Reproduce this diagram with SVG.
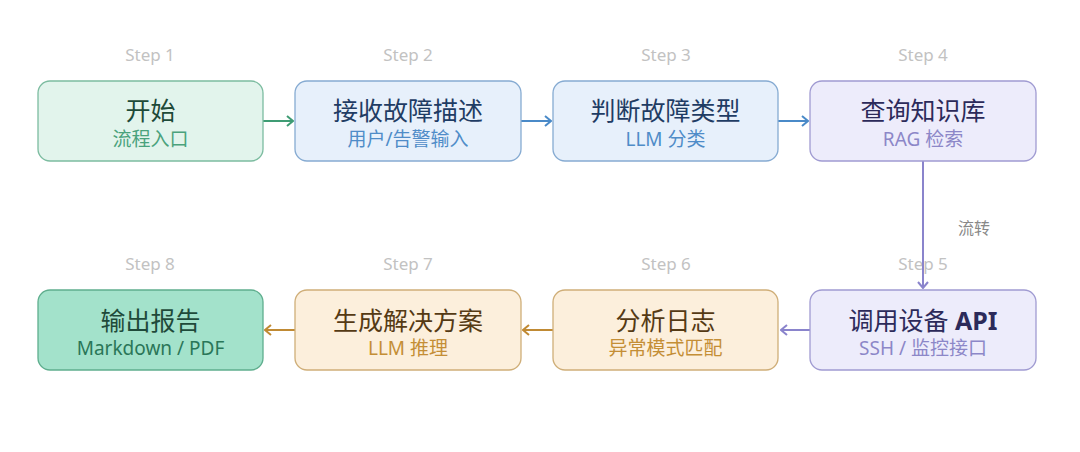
<svg xmlns="http://www.w3.org/2000/svg" width="1080" height="452" viewBox="0 0 1080 452">
<defs>
<style>
.bx{stroke-width:1.3}
.t{font-family:"Noto Sans","Noto Sans CJK SC",sans-serif;font-size:25px;text-anchor:middle}
.s{font-family:"Noto Sans","Noto Sans CJK SC",sans-serif;font-size:19px;text-anchor:middle}
.st{font-family:"Noto Sans","Noto Sans CJK SC",sans-serif;font-size:17px;text-anchor:middle;fill:#c2c2c2}
.g rect{fill:#e2f4ec;stroke:#7cbca0}
.g .t{fill:#1e4a38}.g .s{fill:#4aa27c}
.b rect{fill:#e7f0fb;stroke:#86abd2}
.b .t{fill:#1f3c64}.b .s{fill:#4f8cc8}
.p rect{fill:#edecfb;stroke:#a09bd2}
.p .t{fill:#2c2a5a}.p .s{fill:#8c87c8}
.o rect{fill:#fcefdc;stroke:#cfae78}
.o .t{fill:#553a14}.o .s{fill:#c48e36}
.d rect{fill:#a3e2cb;stroke:#5fae8e}
.d .t{fill:#1f4a3a}.d .s{fill:#2a7658}
.ln{fill:none;stroke-width:2}
</style>
<marker id="ag" viewBox="0 0 12 12" refX="11" refY="6" markerWidth="12" markerHeight="12" orient="auto" markerUnits="userSpaceOnUse"><path d="M5,1 L11,6 L5,11" fill="none" stroke="#3f9c74" stroke-width="2"/></marker>
<marker id="ab" viewBox="0 0 12 12" refX="11" refY="6" markerWidth="12" markerHeight="12" orient="auto" markerUnits="userSpaceOnUse"><path d="M5,1 L11,6 L5,11" fill="none" stroke="#4a8ac8" stroke-width="2"/></marker>
<marker id="ap" viewBox="0 0 12 12" refX="11" refY="6" markerWidth="12" markerHeight="12" orient="auto" markerUnits="userSpaceOnUse"><path d="M5,1 L11,6 L5,11" fill="none" stroke="#8a84cc" stroke-width="2"/></marker>
<marker id="ao" viewBox="0 0 12 12" refX="11" refY="6" markerWidth="12" markerHeight="12" orient="auto" markerUnits="userSpaceOnUse"><path d="M5,1 L11,6 L5,11" fill="none" stroke="#c08a34" stroke-width="2"/></marker>
</defs>
<rect width="1080" height="452" fill="#ffffff"/>
<g id="step-labels">
<text class="st" x="150" y="61">Step 1</text>
<text class="st" x="408" y="61">Step 2</text>
<text class="st" x="666" y="61">Step 3</text>
<text class="st" x="923" y="61">Step 4</text>
<text class="st" x="923" y="270">Step 5</text>
<text class="st" x="666" y="270">Step 6</text>
<text class="st" x="408" y="270">Step 7</text>
<text class="st" x="150" y="270">Step 8</text>
</g>
<g id="connectors">
<line class="ln" x1="263" y1="121" x2="293" y2="121" stroke="#3f9c74" marker-end="url(#ag)"/>
<line class="ln" x1="521" y1="121" x2="551" y2="121" stroke="#4a8ac8" marker-end="url(#ab)"/>
<line class="ln" x1="778" y1="121" x2="808" y2="121" stroke="#4a8ac8" marker-end="url(#ab)"/>
<line class="ln" x1="923" y1="161" x2="923" y2="288" stroke="#8a84cc" marker-end="url(#ap)"/>
<text x="974" y="234" style="font-family:'Noto Sans','Noto Sans CJK SC',sans-serif;font-size:16px;text-anchor:middle;fill:#888">流转</text>
<line class="ln" x1="810" y1="330" x2="781" y2="330" stroke="#8a84cc" marker-end="url(#ap)"/>
<line class="ln" x1="553" y1="330" x2="523" y2="330" stroke="#c08a34" marker-end="url(#ao)"/>
<line class="ln" x1="295" y1="330" x2="265" y2="330" stroke="#c08a34" marker-end="url(#ao)"/>
</g>
<g id="n1" class="g"><rect class="bx" x="38" y="81" width="225" height="80" rx="12"/><text class="t" x="150.5" y="120">开始</text><text class="s" x="150.5" y="146">流程入口</text></g>
<g id="n2" class="b"><rect class="bx" x="295" y="81" width="226" height="80" rx="12"/><text class="t" x="408" y="120">接收故障描述</text><text class="s" x="408" y="146">用户/告警输入</text></g>
<g id="n3" class="b"><rect class="bx" x="553" y="81" width="225" height="80" rx="12"/><text class="t" x="665.5" y="120">判断故障类型</text><text class="s" x="665.5" y="146">LLM 分类</text></g>
<g id="n4" class="p"><rect class="bx" x="810" y="81" width="226" height="80" rx="12"/><text class="t" x="923" y="120">查询知识库</text><text class="s" x="923" y="146">RAG 检索</text></g>
<g id="n5" class="p"><rect class="bx" x="810" y="290" width="226" height="80" rx="12"/><text class="t" x="923" y="330"><tspan>调用设备 </tspan><tspan font-weight="bold">API</tspan></text><text class="s" x="923" y="355">SSH / 监控接口</text></g>
<g id="n6" class="o"><rect class="bx" x="553" y="290" width="225" height="80" rx="12"/><text class="t" x="665.5" y="330">分析日志</text><text class="s" x="665.5" y="355">异常模式匹配</text></g>
<g id="n7" class="o"><rect class="bx" x="295" y="290" width="226" height="80" rx="12"/><text class="t" x="408" y="330">生成解决方案</text><text class="s" x="408" y="355">LLM 推理</text></g>
<g id="n8" class="d"><rect class="bx" x="38" y="290" width="225" height="80" rx="12"/><text class="t" x="150.5" y="330">输出报告</text><text class="s" x="150.5" y="355">Markdown / PDF</text></g>
</svg>
